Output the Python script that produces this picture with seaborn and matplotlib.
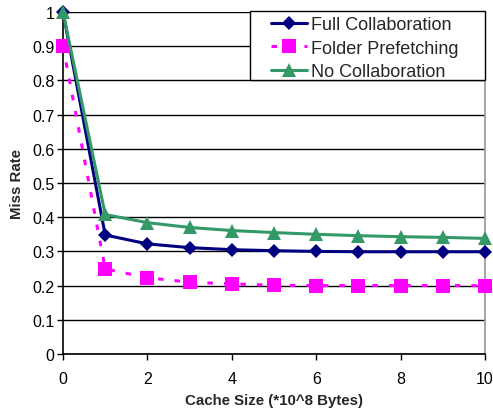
import matplotlib
matplotlib.use("Agg")
import matplotlib.pyplot as plt
from matplotlib.patches import Rectangle
import seaborn as sns
import pandas as pd

cache_size = [0, 1, 2, 3, 4, 5, 6, 7, 8, 9, 10]
full_collab = [1.0, 0.348, 0.322, 0.311, 0.305, 0.302, 0.300, 0.299, 0.299, 0.299, 0.299]
folder_prefetch = [0.90, 0.249, 0.223, 0.210, 0.205, 0.201, 0.200, 0.200, 0.200, 0.200, 0.200]
no_collab = [1.0, 0.408, 0.384, 0.370, 0.361, 0.355, 0.350, 0.346, 0.343, 0.341, 0.338]
series_names = ["Full Collaboration", "Folder Prefetching", "No Collaboration"]
x_tick_labels = ["0", "2", "4", "6", "8", "10"]
y_tick_labels = ["0", "0.1", "0.2", "0.3", "0.4", "0.5", "0.6", "0.7", "0.8", "0.9", "1"]

sns.set_theme(style="white")
plt.rcParams["font.family"] = ["Liberation Sans", "DejaVu Sans"]

frames = []
for name, vals in zip(series_names, [full_collab, folder_prefetch, no_collab]):
    frames.append(pd.DataFrame({"Cache Size": cache_size, "Miss Rate": vals, "Series": name}))
df = pd.concat(frames, ignore_index=True)

W, H = 493, 414
fig = plt.figure(figsize=(W / 100, H / 100), dpi=100)
ax = fig.add_axes([63 / W, 1 - 355 / H, (485 - 63) / W, (355 - 13) / H])

styles = {
    "Full Collaboration": dict(color="#000080", marker="D", ms=7, ls="-", lw=2.2),
    "Folder Prefetching": dict(color="#FF00FF", marker="s", ms=10.5, ls=(0, (1.8, 3.6)), lw=2.2),
    "No Collaboration": dict(color="#339966", marker="^", ms=10.5, ls="-", lw=2.2),
}
for name in series_names:
    st = styles[name]
    sns.lineplot(data=df[df["Series"] == name], x="Cache Size", y="Miss Rate", ax=ax,
                 color=st["color"], marker=st["marker"], markersize=st["ms"],
                 linestyle=st["ls"], linewidth=st["lw"], markeredgewidth=0,
                 label=name, clip_on=False, zorder=3)

ax.set_xlim(0, 10)
ax.set_ylim(0, 1)
ax.set_xticks([0, 2, 4, 6, 8, 10])
ax.set_xticklabels(x_tick_labels)
ax.set_yticks([i / 10 for i in range(11)])
ax.set_yticklabels(y_tick_labels)
ax.yaxis.grid(True, color="black", linewidth=1)
ax.xaxis.grid(False)
ax.set_axisbelow(True)

ax.spines["top"].set_visible(False)
ax.spines["right"].set_color("#999999")
ax.spines["left"].set_color("black")
ax.spines["bottom"].set_color("black")
ax.spines["left"].set_linewidth(1.2)
ax.spines["bottom"].set_linewidth(1.2)

ax.tick_params(axis="both", which="both", direction="out", length=4, width=1,
               color="black", labelsize=11.5, labelcolor="black", pad=2, left=True, bottom=True)
ax.tick_params(axis="x", pad=8)

ax.set_xlabel("Cache Size (*10^8 Bytes)", fontsize=10.8, fontweight="bold", labelpad=5)
ax.set_ylabel("Miss Rate", fontsize=10.8, fontweight="bold", labelpad=6)

# legend box with wide Excel-style padding
box = Rectangle((250 / W, 1 - 81 / H), 235 / W, 69 / H, transform=fig.transFigure,
                facecolor="white", edgecolor="black", linewidth=1, zorder=4, clip_on=False)
ax.add_patch(box)

handles, labels = ax.get_legend_handles_labels()
leg = ax.legend(handles, labels, loc="upper left", bbox_to_anchor=(271 / W, 1 - 17 / H),
                bbox_transform=fig.transFigure, fontsize=13, frameon=False,
                borderpad=0, labelspacing=0.36, handlelength=2.0, handletextpad=0.2,
                borderaxespad=0)
leg.set_zorder(5)

fig.savefig("out.png", dpi=100)
